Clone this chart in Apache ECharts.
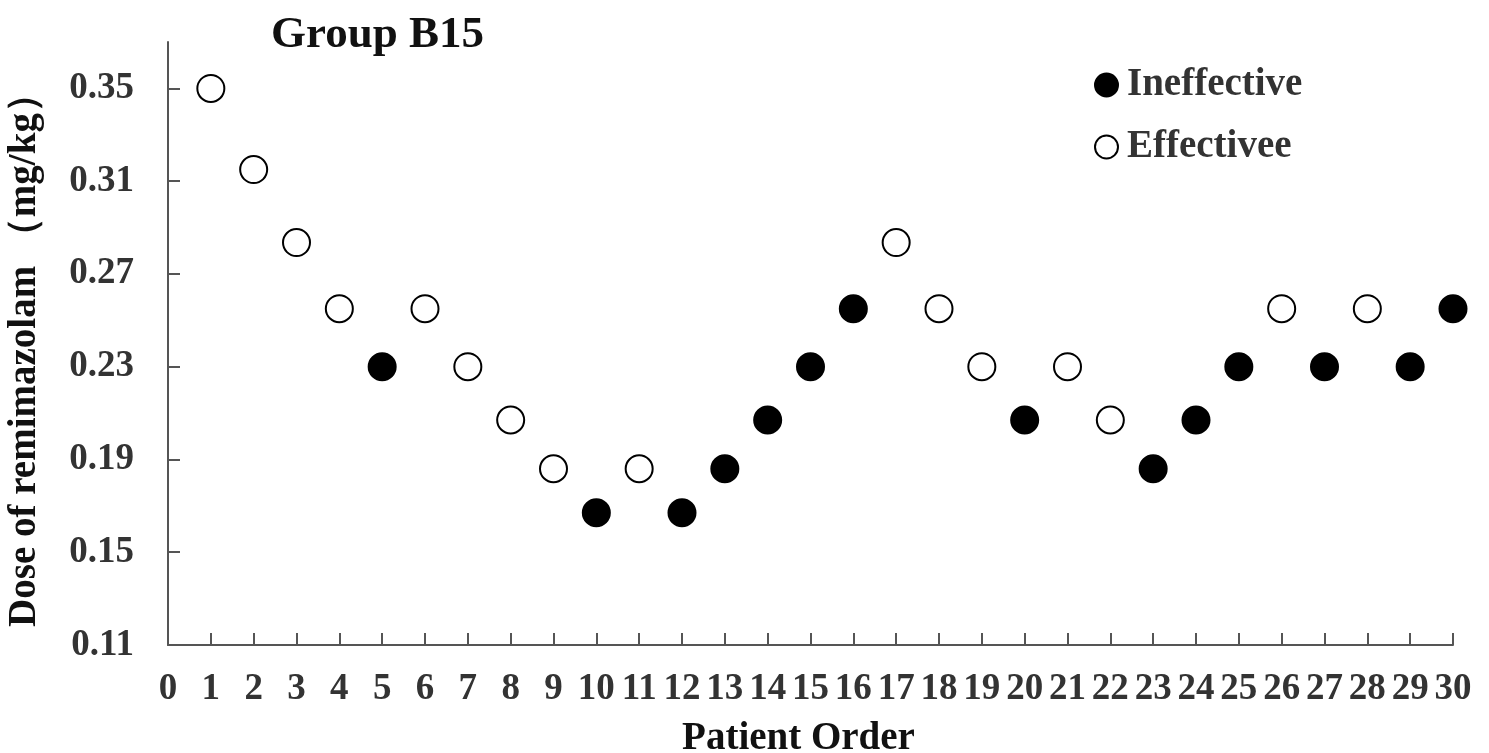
<!DOCTYPE html>
<html>
<head>
<meta charset="utf-8">
<title>Group B15</title>
<script src="https://cdn.jsdelivr.net/npm/echarts@6/dist/echarts.min.js"></script>
<style>
	html, body {margin: 0; padding: 0; background: #fff;}
	#main {width: 1489px; height: 753px;}
</style>
</head>
<body>
<div id="main"></div>
<script>
// patient order and dose given (mg/kg)
const patients = [1, 2, 3, 4, 5, 6, 7, 8, 9, 10, 11, 12, 13, 14, 15, 16, 17, 18, 19, 20, 21, 22, 23, 24, 25, 26, 27, 28, 29, 30];
const doses = [0.35, 0.315, 0.2835, 0.255, 0.23, 0.255, 0.23, 0.207, 0.186, 0.167,
	0.186, 0.167, 0.186, 0.207, 0.23, 0.255, 0.2835, 0.255, 0.23, 0.207,
	0.23, 0.207, 0.186, 0.207, 0.23, 0.255, 0.23, 0.255, 0.23, 0.255];
// 1 = effective, 0 = ineffective
const outcome = [1, 1, 1, 1, 0, 1, 1, 1, 1, 0,
	1, 0, 0, 0, 0, 0, 1, 1, 1, 0,
	1, 1, 0, 0, 0, 1, 0, 1, 0, 0];
const yTicks = [0.11, 0.15, 0.19, 0.23, 0.27, 0.31, 0.35];
const xTicks = [0, 1, 2, 3, 4, 5, 6, 7, 8, 9, 10, 11, 12, 13, 14, 15, 16, 17, 18, 19, 20, 21, 22, 23, 24, 25, 26, 27, 28, 29, 30];

const FONT = '"Liberation Serif", "Times New Roman", serif';

const pick = flag => patients
	.map((p, i) => [p, doses[i], outcome[i]])
	.filter(d => d[2] === flag)
	.map(d => [d[0], d[1]]);

const chart = echarts.init(document.querySelector('#main'), null, {renderer: 'canvas'});

chart.setOption({
	animation: false,
	title: {
		text: 'Group B15',
		left: 266,
		top: 8,
		textStyle: {fontFamily: FONT, fontWeight: 'bold', fontSize: 45, color: '#111'}
	},
	legend: {
		orient: 'vertical',
		left: 1089,
		top: 60,
		itemWidth: 23,
		itemHeight: 23,
		itemGap: 22,
		icon: 'circle',
		textStyle: {fontFamily: FONT, fontWeight: 'bold', fontSize: 39, color: '#333', lineHeight: 40, padding: [0, 0, 0, 4]},
		data: ['Ineffective', 'Effectivee']
	},
	grid: {left: 168, right: 36, top: 42, bottom: 108, containLabel: false, outerBoundsMode: 'none'},
	xAxis: {
		type: 'value',
		min: 0,
		max: 30,
		interval: 1,
		name: 'Patient Order',
		nameLocation: 'middle',
		nameGap: 74,
		nameTextStyle: {fontFamily: FONT, fontWeight: 'bold', fontSize: 39, color: '#111', padding: [0, 24, 0, 0]},
		splitLine: {show: false},
		axisLine: {lineStyle: {color: '#555', width: 2}},
		axisTick: {inside: true, length: 12, lineStyle: {color: '#555', width: 2}},
		axisLabel: {
			customValues: xTicks,
			margin: 26,
			fontFamily: FONT,
			fontWeight: 'bold',
			fontSize: 37,
			color: '#333'
		}
	},
	yAxis: {
		type: 'value',
		min: 0.11,
		max: 0.37,
		name: 'Dose of remimazolam （mg/kg）',
		nameLocation: 'middle',
		nameRotate: 90,
		nameGap: 124,
		nameTextStyle: {fontFamily: FONT, fontWeight: 'bold', fontSize: 39, color: '#111', padding: [0, 14, 0, 0]},
		splitLine: {show: false},
		axisLine: {show: true, lineStyle: {color: '#555', width: 2}},
		axisTick: {show: true, inside: true, length: 12, customValues: yTicks, lineStyle: {color: '#555', width: 2}},
		axisLabel: {
			customValues: yTicks,
			margin: 34,
			formatter: v => v.toFixed(2),
			fontFamily: FONT,
			fontWeight: 'bold',
			fontSize: 37,
			color: '#333'
		}
	},
	series: [
		{
			name: 'Ineffective',
			type: 'scatter',
			symbol: 'circle',
			symbolSize: 27,
			itemStyle: {color: '#000', borderColor: '#000', borderWidth: 2, opacity: 1},
			data: pick(0)
		},
		{
			name: 'Effectivee',
			type: 'scatter',
			symbol: 'circle',
			symbolSize: 27,
			itemStyle: {color: '#fff', borderColor: '#000', borderWidth: 2, opacity: 1},
			data: pick(1)
		}
	]
});
</script>
</body>
</html>
